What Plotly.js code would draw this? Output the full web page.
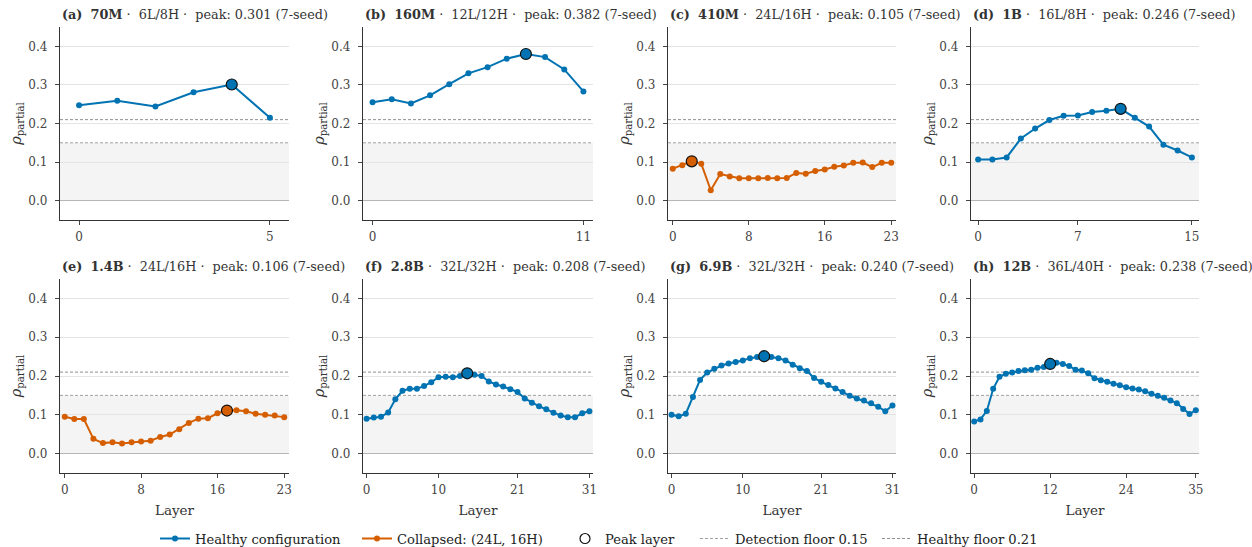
<!DOCTYPE html>
<html>
<head>
<meta charset="utf-8">
<script src="https://cdn.plot.ly/plotly-3.0.1.min.js"></script>
<style>
html,body{margin:0;padding:0;background:#fff;}
#chart{width:1252px;height:547px;}
</style>
</head>
<body>
<div id="chart"></div>
<script>
// ---- Data ----
const panelLetters = ["(a)", "(b)", "(c)", "(d)", "(e)", "(f)", "(g)", "(h)"];
const modelNames = ["70M", "160M", "410M", "1B", "1.4B", "2.8B", "6.9B", "12B"];
const configs = ["6L/8H", "12L/12H", "24L/16H", "16L/8H", "24L/16H", "32L/32H", "32L/32H", "36L/40H"];
const peakTexts = ["0.301", "0.382", "0.105", "0.246", "0.106", "0.208", "0.240", "0.238"];
const collapsed = [false, false, true, false, true, false, false, false];
const peakLayer = [4, 8, 2, 10, 17, 14, 13, 12];

const vals70M = [0.247, 0.259, 0.244, 0.281, 0.301, 0.215];
const vals160M = [0.255, 0.263, 0.252, 0.273, 0.302, 0.330, 0.346, 0.368, 0.380, 0.372, 0.340, 0.283];
const vals410M = [0.083, 0.092, 0.102, 0.096, 0.027, 0.069, 0.063, 0.058, 0.058, 0.058, 0.059, 0.058,
                  0.059, 0.072, 0.070, 0.077, 0.081, 0.088, 0.091, 0.098, 0.099, 0.087, 0.098, 0.098];
const vals1B = [0.107, 0.107, 0.112, 0.161, 0.187, 0.209, 0.220, 0.221, 0.230, 0.233, 0.238, 0.215,
                0.192, 0.145, 0.130, 0.112];
const vals1p4B = [0.095, 0.089, 0.089, 0.038, 0.027, 0.029, 0.026, 0.029, 0.031, 0.033, 0.043, 0.049,
                  0.063, 0.079, 0.090, 0.091, 0.104, 0.111, 0.112, 0.109, 0.103, 0.100, 0.098, 0.094];
const vals2p8B = [0.090, 0.093, 0.095, 0.106, 0.140, 0.162, 0.167, 0.167, 0.174, 0.184, 0.197, 0.198,
                  0.197, 0.200, 0.207, 0.203, 0.200, 0.186, 0.178, 0.173, 0.166, 0.159, 0.142, 0.131,
                  0.122, 0.114, 0.105, 0.098, 0.094, 0.094, 0.104, 0.109];
const vals6p9B = [0.100, 0.096, 0.103, 0.146, 0.190, 0.209, 0.219, 0.227, 0.232, 0.236, 0.240, 0.246,
                  0.249, 0.251, 0.249, 0.246, 0.240, 0.229, 0.220, 0.213, 0.195, 0.185, 0.177, 0.168,
                  0.159, 0.149, 0.142, 0.137, 0.130, 0.121, 0.109, 0.124];
const vals12B = [0.083, 0.088, 0.110, 0.167, 0.198, 0.206, 0.209, 0.213, 0.215, 0.216, 0.221, 0.223,
                 0.231, 0.234, 0.231, 0.226, 0.216, 0.214, 0.207, 0.194, 0.189, 0.185, 0.180, 0.176,
                 0.171, 0.168, 0.165, 0.161, 0.154, 0.149, 0.144, 0.137, 0.130, 0.115, 0.102, 0.112];
const allVals = [vals70M, vals160M, vals410M, vals1B, vals1p4B, vals2p8B, vals6p9B, vals12B];

const xTickVals = [[0, 5], [0, 11], [0, 8, 16, 23], [0, 7, 15], [0, 8, 16, 23], [0, 10, 21, 31], [0, 10, 21, 31], [0, 12, 24, 35]];
const yTickVals = [0.0, 0.1, 0.2, 0.3, 0.4];
const detectionFloor = 0.15;
const healthyFloor = 0.21;

// ---- Styles ----
const BLUE = "#0173b2";
const ORANGE = "#d55e00";
const FONT = "'DejaVu Serif', 'Liberation Serif', serif";
const W = 1252, H = 547;
const colPx = [[60, 289], [363, 593], [668, 896], [971, 1199]];
const rowPx = [[27, 220], [279, 473]];
const GAP = "\u00a0 ";

const traces = [];
const legendFont = {family: FONT, size: 13.1, color: "#222"};
function legendAt(px) {
  return {orientation: "h", x: px / W, xanchor: "left", y: 1 - 539 / H, yanchor: "middle",
          font: legendFont, bgcolor: "rgba(0,0,0,0)", borderwidth: 0};
}
const layout = {
  width: W, height: H,
  margin: {l: 0, r: 0, t: 0, b: 0, autoexpand: false},
  paper_bgcolor: "#fff", plot_bgcolor: "rgba(0,0,0,0)",
  font: {family: FONT, size: 11, color: "#333"},
  showlegend: true,
  legend: legendAt(155), legend2: legendAt(357), legend3: legendAt(565),
  legend4: legendAt(695), legend5: legendAt(877),
  shapes: [], annotations: []
};

let legendShown = {healthy: false, collapsed: false, det: false, hf: false};

for (let i = 0; i < 8; i++) {
  const r = Math.floor(i / 4), c = i % 4;
  const sfx = i === 0 ? "" : String(i + 1);
  const xa = "x" + sfx, ya = "y" + sfx;
  const vals = allVals[i];
  const n = vals.length;
  const xs = vals.map((_, k) => k);
  const col = collapsed[i] ? ORANGE : BLUE;

  layout["xaxis" + sfx] = {
    domain: [colPx[c][0] / W, colPx[c][1] / W],
    anchor: ya, range: [-0.5, n - 0.5],
    tickvals: xTickVals[i], ticks: "outside", ticklen: 4, tickcolor: "#444", tickwidth: 1,
    ticklabelstandoff: 1,
    showline: true, linecolor: "#333", linewidth: 1.2, showgrid: false, zeroline: false,
    tickfont: {family: FONT, size: 12, color: "#444"},
    title: r === 1 ? {text: "Layer", font: {family: FONT, size: 13.5, color: "#333"}, standoff: 10} : {text: ""}
  };
  layout["yaxis" + sfx] = {
    domain: [1 - rowPx[r][1] / H, 1 - rowPx[r][0] / H],
    anchor: xa, range: [-0.05, 0.45],
    tickvals: yTickVals, ticktext: yTickVals.map(v => v.toFixed(1)),
    ticks: "outside", ticklen: 4, tickcolor: "#444", tickwidth: 1,
    ticklabelstandoff: 5,
    showline: true, linecolor: "#333", linewidth: 1.2,
    showgrid: true, gridcolor: "#e4e4e4", gridwidth: 1,
    zeroline: true, zerolinecolor: "#b5b5b5", zerolinewidth: 1,
    tickfont: {family: FONT, size: 12, color: "#444"},
    title: {text: "<i>ρ</i><sub>partial</sub>", font: {family: FONT, size: 14.5, color: "#333"}, standoff: 3}
  };

  // shaded region below detection floor
  layout.shapes.push({
    type: "rect", xref: xa + " domain", yref: ya, x0: 0, x1: 1, y0: 0, y1: detectionFloor,
    fillcolor: "#f4f4f4", line: {width: 0}, layer: "below"
  });

  // floors
  traces.push({
    x: [-0.5, n - 0.5], y: [detectionFloor, detectionFloor], xaxis: xa, yaxis: ya,
    mode: "lines", line: {color: "#a0a0a0", width: 1, dash: "3px,2px"},
    name: "Detection floor 0.15", legend: "legend4", showlegend: !legendShown.det, hoverinfo: "skip"
  });
  legendShown.det = true;
  traces.push({
    x: [-0.5, n - 0.5], y: [healthyFloor, healthyFloor], xaxis: xa, yaxis: ya,
    mode: "lines", line: {color: "#909090", width: 1, dash: "3px,2px"},
    name: "Healthy floor 0.21", legend: "legend5", showlegend: !legendShown.hf, hoverinfo: "skip"
  });
  legendShown.hf = true;

  // main series
  const key = collapsed[i] ? "collapsed" : "healthy";
  traces.push({
    x: xs, y: vals, xaxis: xa, yaxis: ya, mode: "lines+markers",
    line: {color: col, width: 2}, marker: {color: col, size: 6},
    name: collapsed[i] ? "Collapsed: (24L, 16H)" : "Healthy configuration",
    legend: collapsed[i] ? "legend2" : "legend",
    showlegend: !legendShown[key]
  });
  legendShown[key] = true;

  // peak marker
  const p = peakLayer[i];
  traces.push({
    x: [xs[p]], y: [vals[p]], xaxis: xa, yaxis: ya, mode: "markers",
    marker: {color: col, size: 11, line: {color: "#111", width: 1.2}},
    showlegend: false
  });

  // panel title
  layout.annotations.push({
    xref: "paper", yref: "paper", x: colPx[c][0] / W, y: 1 - rowPx[r][0] / H,
    xanchor: "left", yanchor: "bottom", yshift: 3, showarrow: false,
    text: "<b>" + panelLetters[i] + "</b>" + GAP + "<b>" + modelNames[i] + "</b> ·" + GAP + configs[i] +
          " ·" + GAP + "peak: " + peakTexts[i] + " (7-seed)",
    font: {family: FONT, size: 12.8, color: "#333"}
  });
}

// legend-only entry for peak marker
traces.push({
  x: [null], y: [null], mode: "markers", name: "Peak layer", legend: "legend3",
  marker: {color: "#fff", size: 10, line: {color: "#111", width: 1.2}}
});

Plotly.newPlot("chart", traces, layout, {staticPlot: true, displayModeBar: false});
</script>
</body>
</html>
